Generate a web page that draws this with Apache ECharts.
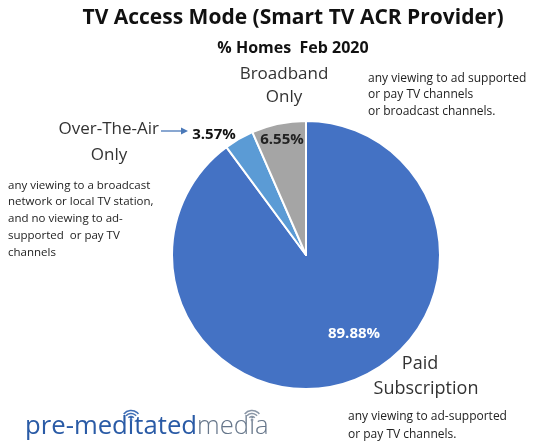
<!DOCTYPE html>
<html><head><meta charset="utf-8">
<script src="https://cdn.jsdelivr.net/npm/echarts@6/dist/echarts.min.js"></script>
<style>html,body{margin:0;padding:0;background:#fff}#c{width:547px;height:444px}</style>
</head><body><div id="c"></div>
<script>
const categories = ['Paid Subscription', 'Over-The-Air Only', 'Broadband Only'];
const values = [89.88, 3.57, 6.55];
const colors = ['#4472C4', '#5B9BD5', '#A5A5A5'];

const chart = echarts.init(document.getElementById('c'));
const F = '"Open Sans", "Noto Sans", sans-serif';
const labelPos = [[354, 334], [214, 135], [282, 140]];
const labelColor = ['#ffffff', '#111111', '#222222'];

// logo measurement
const logoX = 25, logoY = 427;
const fA = '500 25.7px ' + F, fB = '300 25.7px ' + F;
const cv = document.createElement('canvas').getContext('2d');
cv.font = fA;
const wPreMed = cv.measureText('pre-med').width;
const wI = cv.measureText('i').width;
const wPre = cv.measureText('pre-meditated').width;
cv.font = fB;
const wMed = cv.measureText('med').width;
const wI2 = cv.measureText('i').width;
const i1 = logoX + wPreMed + wI / 2;
const i2 = logoX + wPre + wMed + wI2 / 2;
function wifi(cx, cy, col) {
  const g = [];
  [3.5, 6.5, 9.5].forEach(r => g.push({type: 'arc', shape: {cx: cx, cy: cy, r: r, startAngle: -Math.PI * 0.78, endAngle: -Math.PI * 0.22, clockwise: true},
    style: {stroke: col, lineWidth: 1.6, fill: null}}));
  g.push({type: 'circle', shape: {cx: cx, cy: cy, r: 1.4}, style: {fill: col}});
  return g;
}

chart.setOption({
  animation: false,
  title: [
    {text: 'TV Access Mode (Smart TV ACR Provider)', left: 288, top: 3, textAlign: 'center',
     textStyle: {fontFamily: F, fontSize: 21, fontWeight: 'bold', color: '#111'}},
    {text: '% Homes  Feb 2020', left: 288, top: 35, textAlign: 'center',
     textStyle: {fontFamily: F, fontSize: 16, fontWeight: 'bold', color: '#111'}}
  ],
  series: [{
    type: 'pie',
    center: [306, 255],
    radius: 134,
    startAngle: 90,
    clockwise: true,
    data: categories.map((n, i) => ({name: n, value: values[i],
      itemStyle: {color: colors[i]},
      label: {color: labelColor[i]}})),
    itemStyle: {borderColor: '#fff', borderWidth: 2},
    label: {show: true, position: 'inside', formatter: p => p.value.toFixed(2) + '%',
      fontFamily: F, fontSize: 15, fontWeight: 'bold'},
    labelLine: {show: false},
    labelLayout: p => ({x: labelPos[p.dataIndex][0], y: labelPos[p.dataIndex][1], align: 'center', verticalAlign: 'middle'})
  }],
  graphic: [
    {type: 'text', style: {x: 284, y: 66, text: 'Broadband', align: 'center', verticalAlign: 'top', font: '17px ' + F, fill: '#333'}},
    {type: 'text', style: {x: 284, y: 89, text: 'Only', align: 'center', verticalAlign: 'top', font: '17px ' + F, fill: '#333'}},
    {type: 'text', style: {x: 368, y: 70, text: 'any viewing to ad supported\nor pay TV channels\nor broadcast channels.', verticalAlign: 'top', font: '12px ' + F, fill: '#222', lineHeight: 16.5}},
    {type: 'text', style: {x: 159, y: 121, text: 'Over-The-Air', align: 'right', verticalAlign: 'top', font: '17px ' + F, fill: '#333'}},
    {type: 'text', style: {x: 109, y: 147, text: 'Only', align: 'center', verticalAlign: 'top', font: '17px ' + F, fill: '#333'}},
    {type: 'line', shape: {x1: 161, y1: 131, x2: 182, y2: 131}, style: {stroke: '#4A78B8', lineWidth: 1.3}},
    {type: 'polygon', shape: {points: [[188, 131], [181, 127.5], [181, 134.5]]}, style: {fill: '#4A78B8'}},
    {type: 'text', style: {x: 8, y: 177, text: 'any viewing to a broadcast\nnetwork or local TV station,\nand no viewing to ad-\nsupported  or pay TV\nchannels', verticalAlign: 'top', font: '11.5px ' + F, fill: '#222', lineHeight: 16.8}},
    {type: 'text', style: {x: 420, y: 355, text: 'Paid', align: 'center', verticalAlign: 'top', font: '18px ' + F, fill: '#333'}},
    {type: 'text', style: {x: 426, y: 380, text: 'Subscription', align: 'center', verticalAlign: 'top', font: '18px ' + F, fill: '#333'}},
    {type: 'text', style: {x: 348, y: 408, text: 'any viewing to ad-supported\nor pay TV channels.', verticalAlign: 'top', font: '12px ' + F, fill: '#222', lineHeight: 18}},
    {type: 'text', style: {x: logoX, y: logoY, text: '{a|pre-meditated}{b|media}', verticalAlign: 'middle',
      rich: {a: {font: fA, fill: '#2A5BA6'}, b: {font: fB, fill: '#66768A'}}}}
  ].concat(wifi(i1, 420, '#3E6DB5'), wifi(i2, 420, '#8A96A6'))
});
</script></body></html>
